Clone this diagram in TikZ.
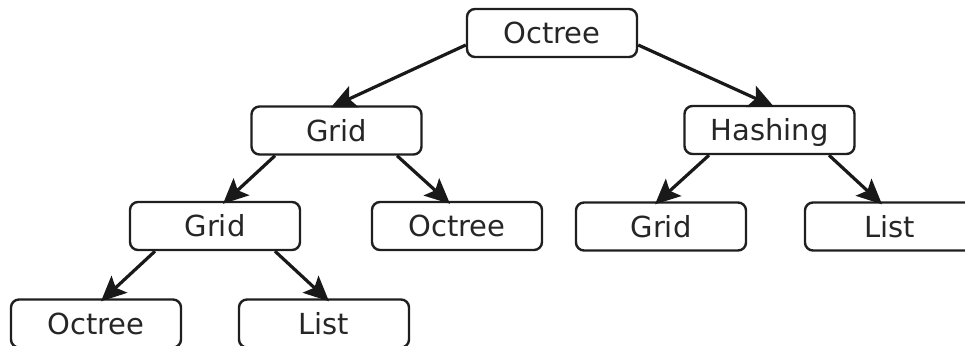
\documentclass[tikz,border=0pt]{standalone}
\usepackage{fontspec}
\setmainfont{DejaVu Sans}
\usetikzlibrary{arrows.meta,calc}

\tikzset{
  treebox/.style={draw=black!88, line width=2.4pt, rounded corners=8pt,
    minimum width=170pt, minimum height=48pt, inner sep=0pt,
    text height=21pt, text depth=0pt, text=black!85,
    font=\fontsize{29}{34}\selectfont},
  link/.style={draw=black!90, line width=3.2pt,
    -{Stealth[length=25pt,width=23pt,inset=5pt]}}
}

\begin{document}
\begin{tikzpicture}[x=1pt,y=-1pt]
  \useasboundingbox (0,0) rectangle (965,345);

  % root
  \node[treebox] (root) at (552,33) {Octree};

  % first level
  \node[treebox] (gridA) at (336.5,130.5) {Grid};
  \node[treebox] (hash)  at (769.5,130) {Hashing};

  % second level
  \node[treebox] (gridB) at (215,226) {Grid};
  \node[treebox] (octB)  at (457,226) {Octree};
  \node[treebox] (gridC) at (661,226.5) {Grid};
  \node[treebox] (listC) at (890,226.5) {List};

  % third level
  \node[treebox] (octD)  at (96,323.5) {Octree};
  \node[treebox] (listD) at (324,323.5) {List};

  % connectors (tips reach just over the top border of each child)
  \draw[link] ($(root.west)+(0,12)$) -- ($(gridA.north)+(-5.5,2)$);
  \draw[link] ($(root.east)+(0,12)$) -- ($(hash.north)+(4.5,2)$);

  \draw[link] ($(gridA.south)+(-61.5,0)$) -- ($(gridB.north)+(8,3)$);
  \draw[link] ($(gridA.south)+(60.5,0)$)  -- ($(octB.north)+(-7,3)$);

  \draw[link] ($(hash.south)+(-60.5,0)$) -- ($(gridC.north)+(-6,3)$);
  \draw[link] ($(hash.south)+(59.5,0)$)  -- ($(listC.north)+(-8,3)$);

  \draw[link] ($(gridB.south)+(-60,0)$) -- ($(octD.north)+(5,3)$);
  \draw[link] ($(gridB.south)+(60,0)$)  -- ($(listD.north)+(5,3)$);
\end{tikzpicture}
\end{document}
